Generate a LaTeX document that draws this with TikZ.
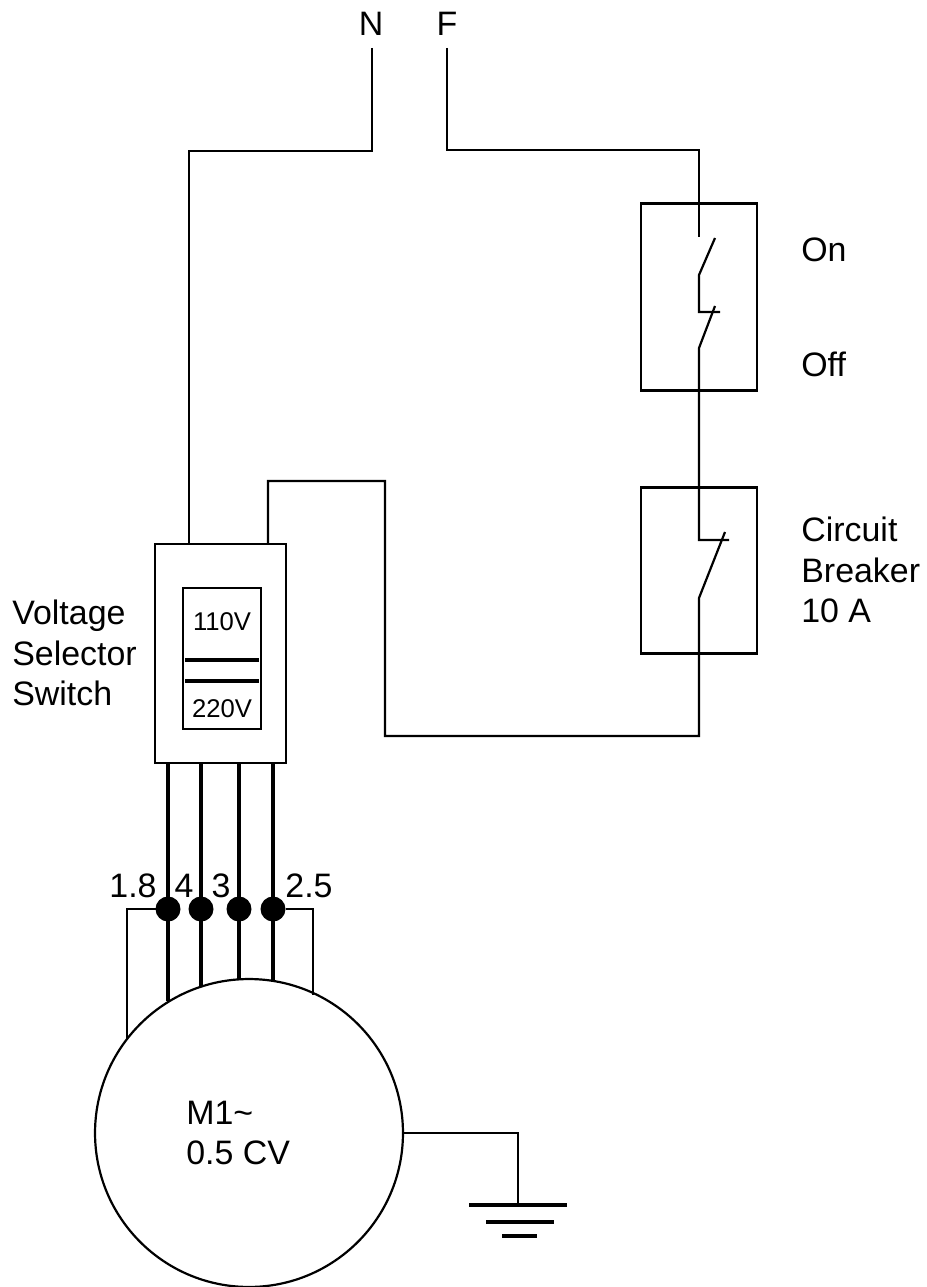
\documentclass[tikz,border=0pt]{standalone}
\usepackage{fontspec}
\setmainfont{Liberation Sans}
\usetikzlibrary{calc,positioning}

\begin{document}
\begin{tikzpicture} [x=0.02cm,y=-0.02cm,line join=miter,{wire/.style={draw=black,line width=1.25pt}},{busline/.style={draw=black,line width=1.9pt}},{housing/.style={rectangle,draw=black,line width=1.35pt,inner sep=0pt,outer sep=0pt}},{terminal/.style={circle,fill=black,inner sep=0pt,outer sep=0pt,minimum size=0.5cm}},{caption/.style={font=\fontsize{19.3}{23}\selectfont,align=left,inner sep=0pt}},{tinylabel/.style={font=\fontsize{14.6}{17}\selectfont,inner sep=0pt}}]
	\useasboundingbox (0,0) rectangle (926,1287);
	%%supply labels
	\node [caption] (neutral) at (371,24) {N};
	\node [caption] (phase) at (447,24) {F};
	%%on off switch and breaker
	\node [housing,minimum width=2.32cm,minimum height=3.74cm] (onoff) at (699,297) {};
	\node [housing,minimum width=2.32cm,minimum height=3.32cm] (breaker) at (699,570.5) {};
	\node [caption,anchor=west] (onlabel) at (801,250) {On};
	\node [caption,anchor=west] (offlabel) at (801,364) {Off};
	\node [caption,anchor=west] (breakerlabel) at (801,570) {Circuit\\Breaker\\10 A};
	%%voltage selector
	\node [housing,minimum width=2.62cm,minimum height=4.38cm] (selector) at (220.5,653.5) {};
	\node [housing,minimum width=1.56cm,minimum height=2.82cm] (window) at (222,658.5) {};
	\node [tinylabel] (low) at (222,622) {110V};
	\node [tinylabel] (high) at (222,709) {220V};
	\node [caption,anchor=west] (selectorlabel) at (12,653) {Voltage\\Selector\\Switch};
	\coordinate (barA) at (185,660);
	\coordinate (barB) at (259,660);
	\coordinate (barC) at (185,681);
	\coordinate (barD) at (259,681);
	\draw [busline] (barA) -- (barB);
	\draw [busline] (barC) -- (barD);
	%%motor
	\node [circle,draw=black,line width=1.25pt,inner sep=0pt,outer sep=0pt,minimum size=6.16cm] (motor) at (249,1133) {};
	\node [caption,anchor=west] (motorlabel) at (186,1133) {M1\textasciitilde\\0.5 CV};
	%%terminals
	\node [terminal] (dotA) at (168,909) {};
	\node [terminal] (dotB) at (201,909) {};
	\node [terminal] (dotC) at (239,909) {};
	\node [terminal] (dotD) at (273,909) {};
	\node [caption] (labelA) at (133,886) {1.8};
	\node [caption] (labelB) at (184,886) {4};
	\node [caption] (labelC) at (221,886) {3};
	\node [caption] (labelD) at (309,886) {2.5};
	%%wires from supply
	\coordinate (neutralend) at (372,48);
	\coordinate (phaseend) at (447,48);
	\coordinate (selectorN) at (189,544);
	\coordinate (selectorF) at (268,544);
	\draw [wire] (neutralend) |- (selectorN |- 0,151) -- (selectorN);
	%%contacts
	\coordinate (onfix) at (699,237);
	\coordinate (onpivot) at (699,275);
	\coordinate (ontip) at (715,238);
	\coordinate (offstop) at (720,312);
	\coordinate (offpivot) at (699,348);
	\coordinate (offtip) at (715,306);
	\coordinate (brkstop) at (729,540);
	\coordinate (brkpivot) at (699,598);
	\coordinate (brktip) at (725,532);
	\draw [wire] (phaseend) |- (onfix |- 0,150) -- (onfix);
	\draw [wire] (ontip) -- (onpivot) -- (onpivot |- offstop) -- (offstop);
	\draw [wire] (offtip) -- (offpivot) -- (offpivot |- brkstop) -- (brkstop);
	\draw [wire] (brktip) -- (brkpivot) -- (699,736) -- (385,736) -- (385,481) -- (selectorF |- 0,481) -- (selectorF);
	%%selector to terminals to motor
	\foreach \dotname/\ang in {dotA/121.7,dotB/108.2,dotC/93.7,dotD/81.0}
		\draw [busline] (\dotname |- selector.south) -- (\dotname |- motor.\ang);
	\draw [wire] (dotA) -- (127,909) -- (127,1040);
	\draw [wire] (dotD) -- (313,909) -- (313,995);
	%%ground
	\coordinate (earth) at (518,1205);
	\draw [wire] (motor.east) -| (earth);
	\draw [busline] (469,1205) -- (567,1205);
	\draw [busline] (486,1222) -- (554,1222);
	\draw [busline] (502,1236) -- (537,1236);
\end{tikzpicture}
\end{document}
